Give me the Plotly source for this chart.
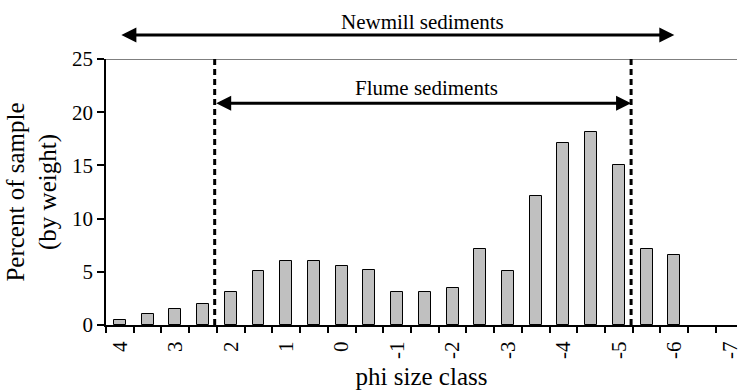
import plotly.graph_objects as go

# ---- data ----
phi_class = [4, 3.5, 3, 2.5, 2, 1.5, 1, 0.5, 0, -0.5, -1, -1.5, -2, -2.5, -3,
             -3.5, -4, -4.5, -5, -5.5, -6, -6.5, -7]
percent = [0.5, 1.0, 1.5, 2.0, 3.1, 5.1, 6.0, 6.0, 5.5, 5.2, 3.1, 3.1, 3.5, 7.1,
           5.1, 12.1, 17.1, 18.1, 15.0, 7.1, 6.6, 0, 0]
tick_vals = [4, 3, 2, 1, 0, -1, -2, -3, -4, -5, -6, -7]
tick_text = [str(v) for v in tick_vals]
boundary_ticks = [v + 0.25 for v in phi_class]
y_ticks = [0, 5, 10, 15, 20, 25]

newmill_range = (4, -6)
flume_range = (2.29, -5.22)

FONT = "Liberation Serif"
FS = 21

fig = go.Figure()
fig.add_trace(go.Bar(
    x=phi_class, y=percent, width=0.215,
    marker=dict(color="#c0c0c0",
                line=dict(color="black", width=[1 if v > 0 else 0 for v in percent])),
    showlegend=False, hoverinfo="x+y"))

fig.update_layout(
    width=742, height=391,
    margin=dict(l=106, r=0, t=59, b=66),
    paper_bgcolor="white", plot_bgcolor="white",
    font=dict(family=FONT, size=FS, color="black"),
    bargap=0,
    xaxis=dict(
        range=[4.25, -7.13], showgrid=False, zeroline=False,
        showline=True, linecolor="black", linewidth=2,
        tickmode="array", tickvals=tick_vals, ticktext=tick_text,
        ticks="", tickangle=-90, ticklabelstandoff=6, ticklabeloverflow="allow",
        tickfont=dict(family=FONT, size=FS),
        minor=dict(tickmode="array", tickvals=boundary_ticks, ticks="outside",
                   ticklen=6, tickwidth=1.5, tickcolor="black", showgrid=False),
        title=dict(text="phi size class", standoff=10),
    ),
    yaxis=dict(
        range=[0, 25], showgrid=False, zeroline=False,
        showline=True, linecolor="black", linewidth=1.5,
        tickmode="array", tickvals=y_ticks, ticks="outside", ticklen=7,
        tickwidth=1.5, tickcolor="black", tickfont=dict(family=FONT, size=FS),
        title=dict(text="Percent of sample<br>(by weight)", standoff=8),
    ),
)

# top border at 25
fig.add_shape(type="line", xref="paper", x0=0, x1=1, yref="y", y0=25, y1=25,
              line=dict(color="#555555", width=1.5))

# dashed limits of flume sediments
for xv in flume_range:
    fig.add_shape(type="line", xref="x", x0=xv, x1=xv, yref="y", y0=0, y1=25,
                  line=dict(color="black", width=3, dash="6px,4px"))

# double-headed arrows
def double_arrow(x0, x1, y):
    fig.add_annotation(x=x1, y=y, ax=x0, ay=0, xref="x", yref="paper",
                       axref="x", ayref="pixel", text="", showarrow=True,
                       arrowside="end+start", arrowhead=2, startarrowhead=2,
                       arrowsize=1, startarrowsize=1, arrowwidth=3,
                       arrowcolor="black", standoff=0, startstandoff=0)

double_arrow(newmill_range[0], newmill_range[1], 1.090)
double_arrow(flume_range[0], flume_range[1], 0.834)

fig.add_annotation(x=-1.45, y=1.139, xref="x", yref="paper", text="Newmill sediments",
                   showarrow=False, xanchor="center", yanchor="middle",
                   font=dict(size=FS))
fig.add_annotation(x=-1.53, y=0.891, xref="x", yref="paper", text="Flume sediments",
                   showarrow=False, xanchor="center", yanchor="middle",
                   font=dict(size=FS))

fig.write_html("out.html")
